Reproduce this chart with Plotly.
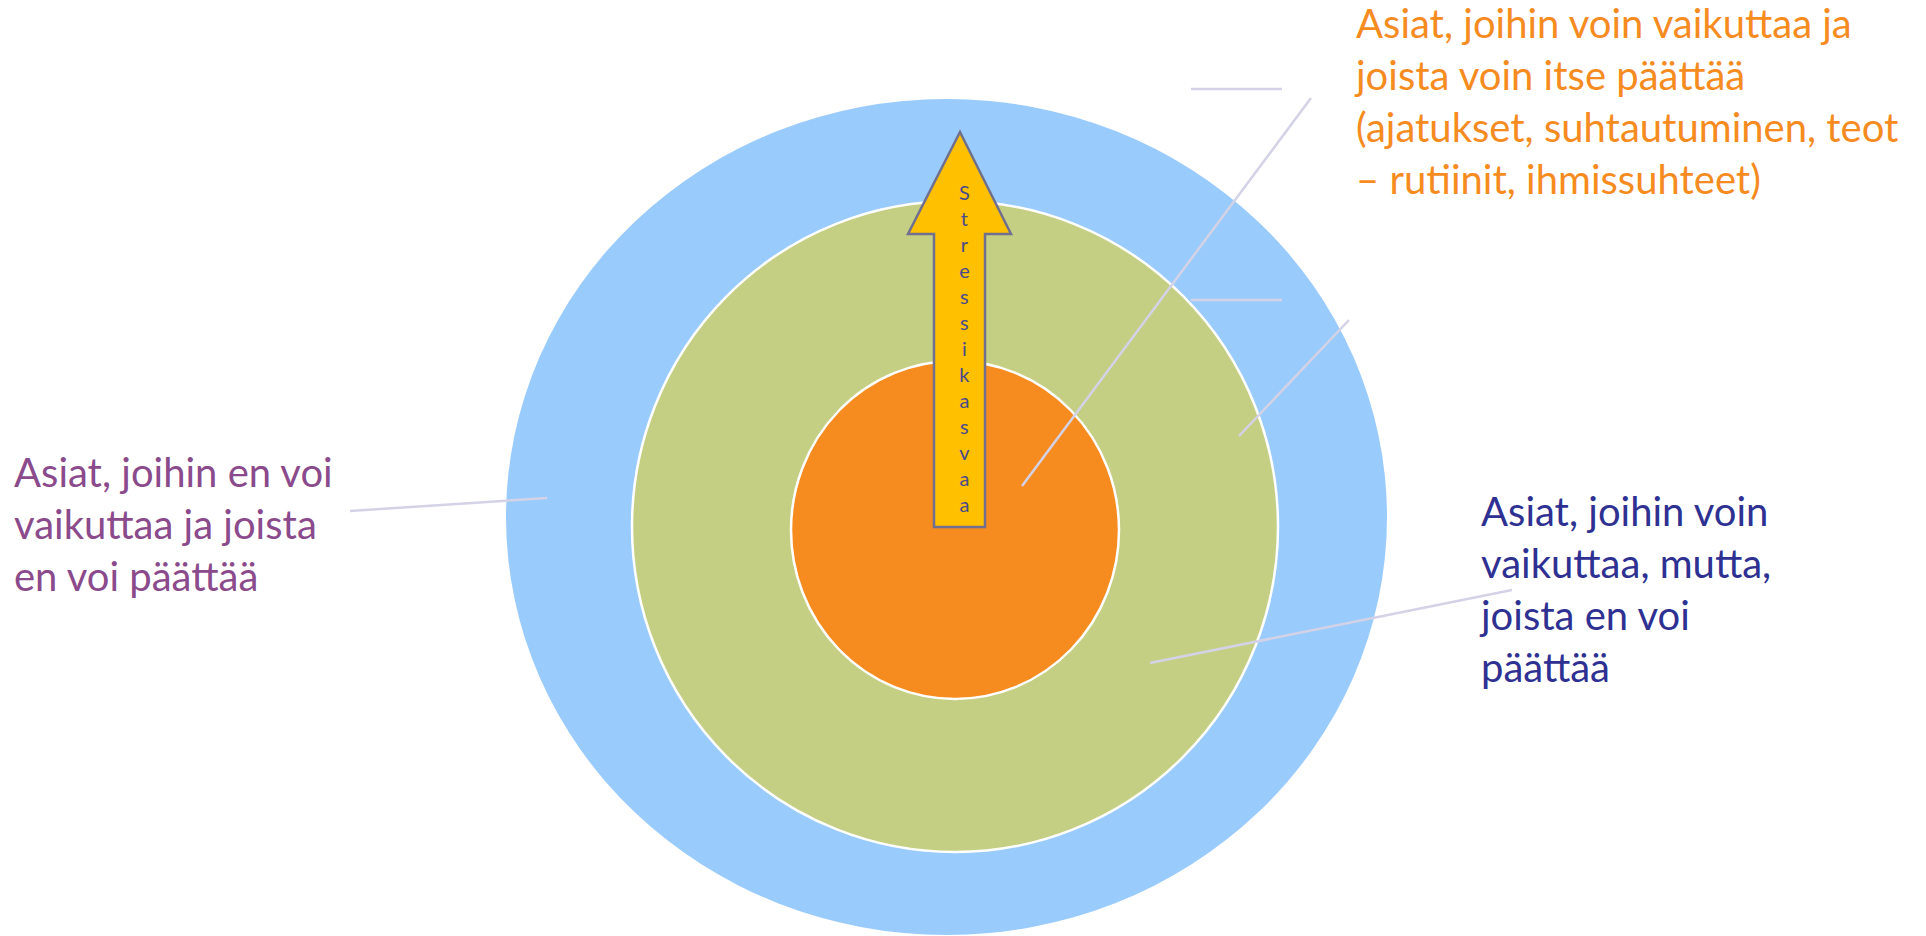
import plotly.graph_objects as go

# ---- content (labels) ----
label_inner = ["Asiat, joihin voin vaikuttaa ja", "joista voin itse päättää",
               "(ajatukset, suhtautuminen, teot", "– rutiinit, ihmissuhteet)"]
label_middle = ["Asiat, joihin voin", "vaikuttaa, mutta,", "joista en voi", "päättää"]
label_outer = ["Asiat, joihin en voi", "vaikuttaa ja joista", "en voi päättää"]
arrow_word = "Stressikasvaa"

# ---- geometry (pixel-space axes) ----
W, H = 1926, 936
ring_boxes = [(506, 99, 1387, 935), (632, 201, 1278, 852), (791, 361, 1119, 699)]
ring_fill = ["#9ACBFD", "#C5CF83", "#F68B20"]
ring_edge = [0, 2.5, 2.5]

leader_lines = [
    (350, 511, 547, 498),
    (1191, 89, 1282, 89),
    (1191, 300, 1282, 300),
    (1311, 98, 1022, 486),
    (1349, 320, 1239, 436),
    (1512, 590, 1150, 663),
]

arrow_pts = [(960, 132), (1011, 234), (985, 234), (985, 527), (934, 527), (934, 234), (908, 234)]

fig = go.Figure()
shapes = []
for (x0, y0, x1, y1), col, lw in zip(ring_boxes, ring_fill, ring_edge):
    shapes.append(dict(type="circle", xref="x", yref="y", x0=x0, y0=y0, x1=x1, y1=y1,
                       fillcolor=col, line=dict(color="white", width=lw if lw else 0),
                       layer="below"))
path = "M " + " L ".join(f"{x},{y}" for x, y in arrow_pts) + " Z"
shapes.append(dict(type="path", xref="x", yref="y", path=path, fillcolor="#FFC000",
                   line=dict(color="#716F8E", width=2.5), layer="above"))
for x0, y0, x1, y1 in leader_lines:
    shapes.append(dict(type="line", xref="x", yref="y", x0=x0, y0=y0, x1=x1, y1=y1,
                       line=dict(color="#D3D2E6", width=2.5), layer="above"))

FONT = "Lato"
FS = 40
annots = [
    dict(x=1352, y=0, yshift=3, text="<br>".join(label_inner), font=dict(family=FONT, size=FS, color="#F68B1F")),
    dict(x=12, y=446, text="<br>".join(label_outer), font=dict(family=FONT, size=FS, color="#8A4A8B")),
    dict(x=1477, y=485, text="<br>".join(label_middle), font=dict(family=FONT, size=FS, color="#2E3192")),
    dict(x=964, y=178, text="<br>".join(list(arrow_word)), xanchor="center",
         font=dict(family=FONT, size=20, color="#4B4A8C")),
]
for a in annots:
    a.setdefault("xanchor", "left")
    a.update(xref="x", yref="y", yanchor="top", showarrow=False, align="left" if a["xanchor"] == "left" else "center")

fig.update_layout(
    width=W, height=H, margin=dict(l=0, r=0, t=0, b=0),
    paper_bgcolor="white", plot_bgcolor="white",
    xaxis=dict(range=[0, W], visible=False, fixedrange=True),
    yaxis=dict(range=[H, 0], visible=False, fixedrange=True),
    shapes=shapes, annotations=annots, showlegend=False,
)
fig.write_html("out.html", config={"displayModeBar": False},
               post_script="document.body.style.margin='0';document.body.style.overflow='hidden';")
